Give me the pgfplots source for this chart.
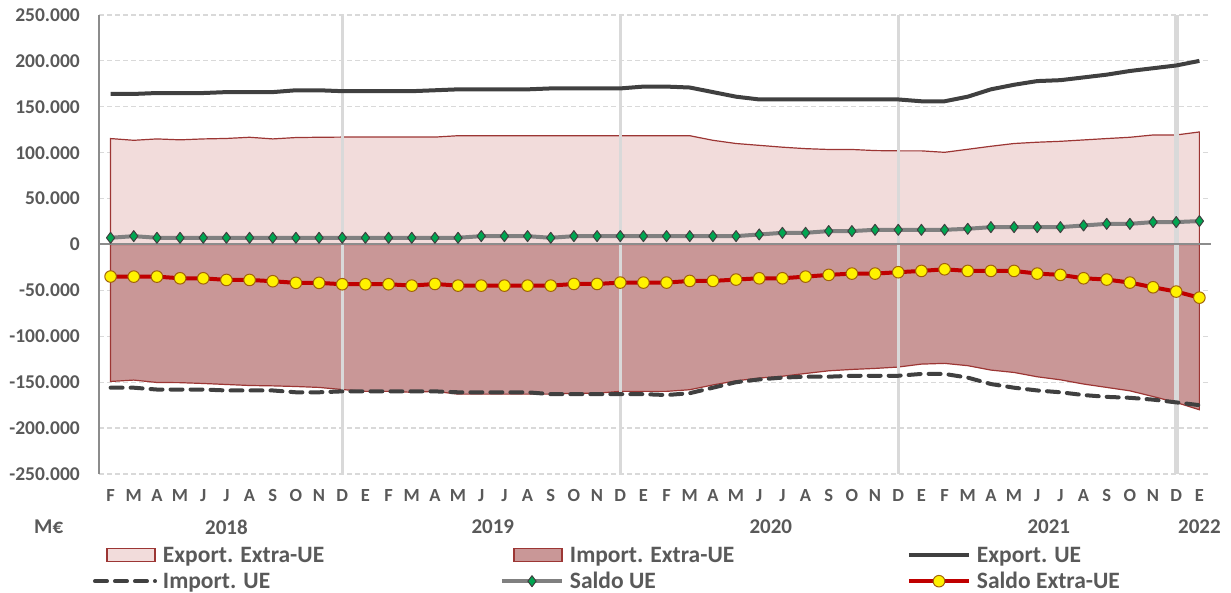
\documentclass[border=0pt]{standalone}
\usepackage{fontspec}
\setmainfont{Carlito}
\usepackage{pgfplots}
\usepackage{pgfplotstable}
\pgfplotsset{compat=1.18}

\definecolor{txtgrey}{HTML}{595959}
\definecolor{expxfill}{HTML}{F2DCDB}
\definecolor{impxfill}{HTML}{C99797}
\definecolor{areaedge}{HTML}{9C3634}
\definecolor{ueline}{HTML}{404040}
\definecolor{saldoue}{HTML}{808080}
\definecolor{diamondgreen}{HTML}{00A651}
\definecolor{saldox}{HTML}{C00000}
\definecolor{markbrown}{HTML}{A0620A}
\definecolor{yearline}{HTML}{D9D9D9}
\definecolor{gridgrey}{HTML}{D9D9D9}
\definecolor{axisgrey}{HTML}{8C8C8C}

\newcommand\tickfont{\fontsize{19.5pt}{20pt}\selectfont\bfseries}
\newcommand\monthfont{\fontsize{18.5pt}{19pt}\selectfont\bfseries}
\newcommand\yearfont{\fontsize{21pt}{22pt}\selectfont\bfseries}
\newcommand\legfont{\fontsize{23.5pt}{25pt}\selectfont\bfseries}

\pgfplotsset{
  arealeg/.style={legend image code/.code={\draw[##1] (12pt,-6.5pt) rectangle (60pt,6.5pt);}},
  lineleg/.style={legend image code/.code={\draw[mark repeat=2,mark phase=2,##1] plot coordinates {(0pt,0pt) (30pt,0pt) (60pt,0pt)};}},
}

% thousands of M EUR, Feb 2018 (0) .. Jan 2022 (47)
\pgfplotstableread{
idx expUE impUE expX impX salUE salX
0 164 -156 115.4 -149.2 7.3 -34.9
1 164 -156 113.5 -147.7 9.1 -35.0
2 165 -158 115.0 -150.3 7.3 -35.0
3 165 -158 114.0 -150.5 7.3 -36.8
4 165 -158 115.0 -151.4 7.3 -36.8
5 166 -159 115.5 -152.5 7.3 -38.6
6 166 -159 116.8 -153.6 7.3 -38.6
7 166 -159 115.0 -154.0 7.3 -40.0
8 168 -161 116.5 -154.7 7.3 -41.8
9 168 -161 116.8 -155.7 7.3 -41.8
10 167 -160 117.0 -158.0 7.3 -43.3
11 167 -160 117.0 -160.0 7.3 -43.3
12 167 -160 117.0 -160.0 7.3 -43.3
13 167 -160 117.0 -161.0 7.3 -44.8
14 168 -160 117.0 -160.0 7.3 -43.0
15 169 -161 118.5 -163.0 7.3 -44.8
16 169 -161 118.5 -163.0 9.1 -44.8
17 169 -161 118.5 -163.0 9.1 -44.8
18 169 -161 118.5 -163.0 9.1 -44.8
19 170 -163 118.5 -163.0 7.3 -44.8
20 170 -163 118.5 -162.0 9.1 -43.0
21 170 -163 118.5 -162.0 9.1 -43.0
22 170 -163 118.5 -160.0 9.1 -41.5
23 172 -163 118.5 -160.0 9.1 -41.5
24 172 -164 118.5 -160.0 9.1 -41.5
25 171 -162 118.5 -158.2 9.1 -39.7
26 166 -156 113.5 -153.0 9.1 -39.7
27 161 -150 110.0 -148.5 9.1 -38.2
28 158 -147 108.0 -145.5 10.9 -36.8
29 158 -145 106.0 -143.5 12.7 -36.8
30 158 -144 104.4 -140.5 12.7 -35.0
31 158 -144 103.5 -137.6 14.6 -33.1
32 158 -143 103.5 -136.1 14.6 -31.7
33 158 -143 102.3 -135.0 16.0 -31.7
34 158 -143 102.0 -133.5 16.0 -30.2
35 156 -141 102.0 -130.3 16.0 -28.8
36 156 -141 100.4 -129.5 16.0 -27.0
37 161 -145 103.7 -132.0 17.1 -28.8
38 169 -152 107.0 -136.8 18.9 -28.8
39 174 -156 110.0 -139.4 18.9 -28.8
40 178 -159 111.4 -144.1 18.9 -31.7
41 179 -161 112.4 -147.4 18.9 -33.1
42 182 -164 113.9 -152.0 20.7 -36.8
43 185 -166 115.4 -155.7 22.5 -38.2
44 189 -167 116.8 -159.4 22.5 -41.5
45 192 -169 119.3 -165.6 24.4 -46.6
46 195 -172 119.3 -172.1 24.4 -51.3
47 200 -175 122.6 -180.0 25.5 -57.9
}\datatable

\begin{document}
\begin{tikzpicture}
\useasboundingbox (0,0) rectangle (1231pt,593pt);
\begin{axis}[
  at={(99pt,119pt)}, anchor=south west,
  width=1112pt, height=459pt, scale only axis,
  xmin=-0.5, xmax=47.5, ymin=-250, ymax=250,
  axis x line*=bottom, axis y line*=left,
  x axis line style={draw=none},
  y axis line style={draw=axisgrey, line width=1.5pt},
  major tick length=0pt,
  xtick={0,...,47},
  xticklabels={F,M,A,M,J,J,A,S,O,N,D,E,F,M,A,M,J,J,A,S,O,N,D,E,F,M,A,M,J,J,A,S,O,N,D,E,F,M,A,M,J,J,A,S,O,N,D,E},
  ytick={-250,-200,...,250},
  yticklabels={-250.000,-200.000,-150.000,-100.000,-50.000,0,50.000,100.000,150.000,200.000,250.000},
  scaled y ticks=false,
  ymajorgrids,
  major grid style={draw=gridgrey, line width=1.2pt, dash pattern=on 5pt off 3pt},
  xticklabel style={font=\monthfont, text=txtgrey, anchor=base, inner sep=0pt, yshift=-27.5pt},
  yticklabel style={font=\tickfont, text=txtgrey, anchor=east, inner sep=0pt, xshift=-19pt},
  clip=false,
  legend columns=3,
  legend cell align=left,
  legend style={
    at={(-0.0054,-0.159)}, anchor=north west,
    draw=none, fill=none, inner sep=0pt, outer sep=0pt,
    font=\legfont, text=txtgrey,
    row sep=8.5pt,
    /tikz/every odd column/.append style={column sep=6pt},
    nodes={inner sep=0pt},
  },
]
\addplot[arealeg, fill=expxfill, draw=areaedge, line width=1.2pt] table[x=idx, y=expX] {\datatable} \closedcycle;
\addlegendentry{\makebox[337pt][l]{Export. Extra-UE}}
\addplot[arealeg, fill=impxfill, draw=areaedge, line width=1.2pt] table[x=idx, y=impX] {\datatable} \closedcycle;
\addlegendentry{\makebox[337pt][l]{Import. Extra-UE}}

% year separators and zero line
\addplot[forget plot, draw=yearline, line width=3pt] coordinates {(10,-250) (10,250)};
\addplot[forget plot, draw=yearline, line width=3pt] coordinates {(22,-250) (22,250)};
\addplot[forget plot, draw=yearline, line width=3pt] coordinates {(34,-250) (34,250)};
\addplot[forget plot, draw=yearline, line width=5pt] coordinates {(46,-250) (46,250)};
\addplot[forget plot, draw=axisgrey, line width=2pt] coordinates {(-0.5,0) (47.5,0)};

\addplot[lineleg, draw=ueline, line width=4pt, line join=round] table[x=idx, y=expUE] {\datatable};
\addlegendentry{Export. UE}
\addplot[lineleg, draw=ueline, line width=4pt, line cap=round, dash pattern=on 12pt off 8pt] table[x=idx, y=impUE] {\datatable};
\addlegendentry{\makebox[337pt][l]{Import. UE}}
\addplot[lineleg, draw=saldoue, line width=4pt, line join=round, mark=diamond*, mark size=5.5pt,
  mark options={solid, fill=diamondgreen, draw=ueline, line width=1pt}] table[x=idx, y=salUE] {\datatable};
\addlegendentry{\makebox[337pt][l]{Saldo UE}}
\addplot[lineleg, draw=saldox, line width=4pt, line join=round, mark=*, mark size=5.8pt,
  mark options={solid, fill=yellow, draw=markbrown, line width=1pt}] table[x=idx, y=salX] {\datatable};
\addlegendentry{Saldo Extra-UE}

\node[font=\yearfont, text=txtgrey, inner sep=0pt] at (axis cs:5,-307.7) {2018};
\node[font=\yearfont, text=txtgrey, inner sep=0pt] at (axis cs:16.5,-307.7) {2019};
\node[font=\yearfont, text=txtgrey, inner sep=0pt] at (axis cs:28.5,-307.7) {2020};
\node[font=\yearfont, text=txtgrey, inner sep=0pt] at (axis cs:40.5,-307.7) {2021};
\node[font=\yearfont, text=txtgrey, inner sep=0pt] at (axis cs:47,-307.7) {2022};
\node[font=\yearfont, text=txtgrey, inner sep=0pt] at (axis cs:-2.67,-307.7) {M€};
\end{axis}
\end{tikzpicture}
\end{document}
